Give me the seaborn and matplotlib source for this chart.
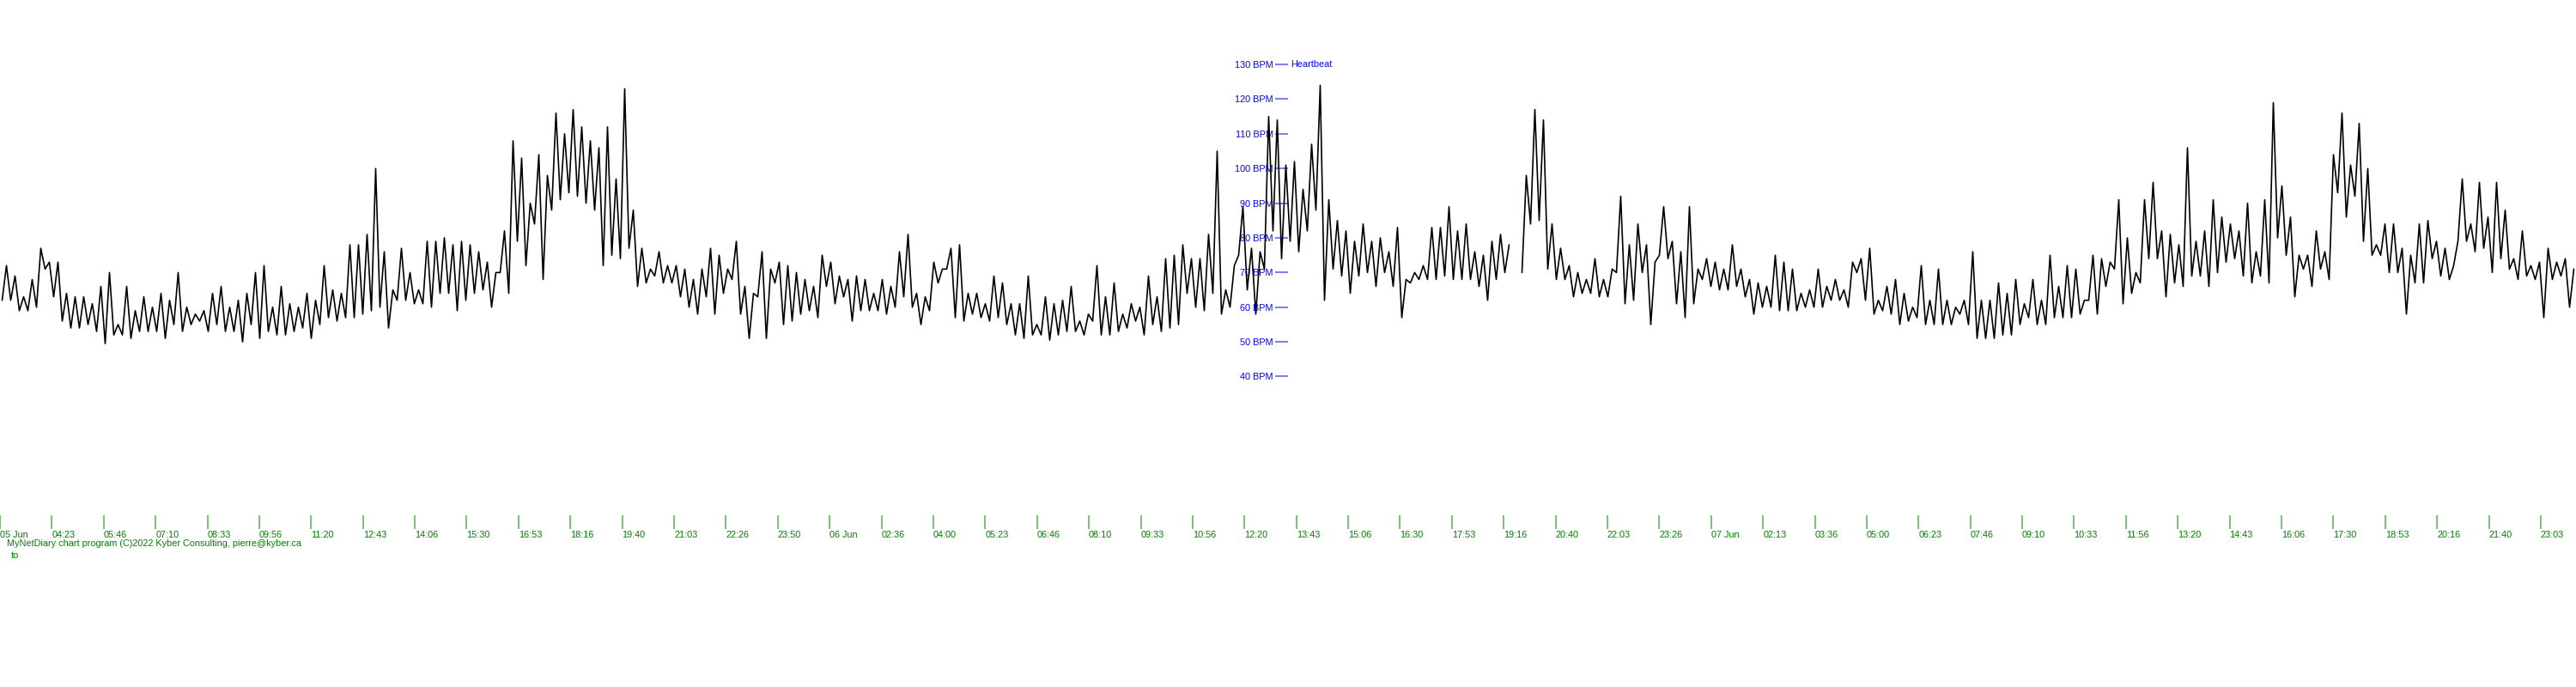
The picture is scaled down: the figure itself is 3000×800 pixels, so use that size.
import matplotlib
matplotlib.use("Agg")
import matplotlib.pyplot as plt
import matplotlib.dates as mdates
import pandas as pd
import seaborn as sns

nan = float("nan")

# heart rate: one (low, high) pair per 13.8 min slot,
# from 05 Jun 03:00 to 08 Jun 00:00. NaN marks a hole in the recording.
bpm_low_a = [62, 62, 59, 59, 60, 71, 63, 56, 54, 54, 55, 53, 49.5, 52, 52, 51, 53, 53, 53, 51,
			 55, 53, 55, 56, 53, 55, 53, 53, 50, 55, 51, 53, 52, 52, 53, 54, 51, 55, 57, 56,
			 57, 57, 58, 59, 60, 54, 62, 62, 61, 61]
bpm_high_a = [72, 69, 63, 68, 77, 73, 73, 64, 63, 63, 61, 66, 70, 55, 66, 59, 63, 60, 64, 62,
			  70, 60, 58, 59, 64, 66, 60, 62, 64, 70, 72, 60, 66, 61, 60, 64, 62, 72, 65, 64,
			  78, 78, 81, 100, 76, 65, 77, 70, 65, 79]
bpm_low_b = [60, 64, 64, 59, 62, 64, 65, 60, 70, 64, 79, 72, 84, 68, 88, 91, 93, 92, 90, 88,
			 72, 75, 74, 77, 66, 67, 69, 67, 67, 63, 60, 58, 63, 58, 64, 68, 58, 51, 63, 51,
			 67, 55, 56, 58, 59, 57, 66, 61, 63, 56]
bpm_high_b = [79, 80, 78, 79, 78, 76, 73, 70, 82, 108, 103, 90, 104, 98, 116, 110, 117, 112, 108, 106,
			  112, 97, 123, 88, 77, 71, 76, 72, 72, 71, 68, 71, 77, 75, 71, 79, 66, 64, 76, 71,
			  73, 72, 70, 68, 66, 75, 73, 69, 68, 69]
bpm_low_c = [59, 59, 59, 58, 60, 63, 60, 55, 59, 67, 71, 57, 56, 58, 57, 56, 57, 55, 52, 51,
			 52, 52, 50.5, 52, 53, 53, 52, 56, 52, 52, 53, 54, 56, 52, 55, 53, 54, 55, 64, 60,
			 59, 64, 58, 60, 75, 65, 58, 71, 82, 74]
bpm_high_c = [68, 64, 68, 66, 76, 81, 64, 63, 73, 71, 77, 78, 64, 64, 61, 69, 67, 61, 61, 69,
			  55, 63, 61, 62, 66, 56, 58, 72, 63, 67, 58, 61, 60, 69, 63, 74, 75, 78, 74, 74,
			  81, 105, 65, 72, 89, 77, 76, 115, 114, 101]
bpm_low_d = [79, 76, 82, 88, 62, 71, 69, 64, 69, 70, 66, 70, 66, 57, 67, 68, 68, 68, 69, 68,
			 68, 68, 66, 62, 68, 70, nan, 70, 84, 85, 71, 68, 68, 63, 64, 64, 63, 63, 70, 61,
			 62, 70, 55, 75, 74, 61, 57, 61, 68, 66]
bpm_high_d = [102, 94, 107, 124, 91, 85, 82, 79, 84, 79, 80, 76, 83, 68, 70, 72, 83, 83, 89, 82,
			  84, 76, 75, 79, 81, 78, nan, 98, 117, 114, 84, 77, 72, 70, 68, 74, 68, 71, 92, 78,
			  84, 78, 73, 89, 79, 76, 89, 71, 74, 73]
bpm_low_e = [65, 65, 66, 63, 58, 60, 60, 59, 59, 59, 60, 60, 60, 62, 62, 60, 70, 62, 58, 59,
			 58, 55, 56, 57, 55, 55, 55, 55, 58, 55, 51, 51, 51, 52, 52, 55, 57, 55, 55, 57,
			 57, 57, 58, 62, 58, 66, 71, 61, 64, 67]
bpm_high_e = [71, 78, 71, 68, 67, 66, 75, 73, 71, 64, 65, 71, 66, 68, 65, 73, 74, 77, 62, 66,
			  68, 64, 60, 72, 62, 71, 62, 60, 62, 76, 62, 62, 67, 64, 68, 61, 68, 62, 75, 66,
			  72, 71, 62, 75, 74, 73, 91, 80, 70, 91]
bpm_low_f = [74, 74, 63, 67, 66, 69, 69, 66, 70, 73, 74, 69, 67, 69, 67, 80, 75, 63, 71, 66,
			 71, 68, 93, 86, 92, 79, 75, 75, 70, 70, 58, 67, 67, 74, 69, 68, 79, 79, 76, 77,
			 70, 74, 71, 68, 69, 68, 57, 68, 69, 60]
bpm_high_f = [96, 82, 81, 78, 106, 79, 82, 91, 86, 84, 82, 90, 76, 91, 119, 95, 86, 75, 75, 82,
			  76, 104, 116, 101, 113, 100, 78, 84, 84, 77, 75, 84, 85, 79, 77, 72, 97, 84, 96, 86,
			  96, 88, 74, 82, 72, 73, 77, 73, 74, 71]

y_ticks = [40, 50, 60, 70, 80, 90, 100, 110, 120, 130]
start = pd.Timestamp("2022-06-05 03:00")
end = pd.Timestamp("2022-06-08 00:00")
tick_step = pd.Timedelta(minutes=83, seconds=20)
n_xticks = 50

BLUE = "#0000ff"
GREEN = "#008000"

bpm_low = bpm_low_a + bpm_low_b + bpm_low_c + bpm_low_d + bpm_low_e + bpm_low_f
bpm_high = bpm_high_a + bpm_high_b + bpm_high_c + bpm_high_d + bpm_high_e + bpm_high_f

slot = (end - start) / len(bpm_low)
rows = []
for i, (lo, hi) in enumerate(zip(bpm_low, bpm_high)):
	rows.append((start + slot * (i + 0.25), lo))
	rows.append((start + slot * (i + 0.75), hi))
df = pd.DataFrame(rows, columns=["time", "bpm"])
df["segment"] = df["bpm"].isna().cumsum()
df = df.dropna()

sns.set_style("white")
plt.rcParams["font.family"] = ["Liberation Sans", "DejaVu Sans"]

fig = plt.figure(figsize=(30, 8), dpi=100)
ax = fig.add_axes([0, 0.25, 1, 0.75])

sns.lineplot(
	data=df,
	x="time",
	y="bpm",
	units="segment",
	estimator=None,
	color="black",
	linewidth=1.2,
	legend=False,
	ax=ax,
)

ax.set_xlim(mdates.date2num(start.to_pydatetime()), mdates.date2num(end.to_pydatetime()))
ax.set_ylim(0, 148.6)
ax.set_xlabel("")
ax.set_ylabel("")
ax.grid(False)

for side in ["top", "right", "bottom", "left"]:
	ax.spines[side].set_visible(False)
ax.spines["left"].set_position(("axes", 0.5))

# y axis sits in the middle of the chart
ax.set_yticks(y_ticks)
ax.set_yticklabels([f"{v} BPM" for v in y_ticks])
ax.tick_params(axis="y", left=True, length=10.8, width=1.5, color="#8080ff", labelcolor=BLUE, labelsize=7.8, pad=1.5)
ax.annotate("Heartbeat", xy=(0.5, 130), xycoords=("axes fraction", "data"), xytext=(3, 0),
			textcoords="offset pixels", ha="left", va="center", color=BLUE, fontsize=7.8)

# time ticks every 1h23m20s, date shown on the first tick of each day
ticks = [start + tick_step * k for k in range(n_xticks)]
labels = []
prev_day = None
for t in ticks:
	labels.append(t.strftime("%d %b") if t.day != prev_day else t.strftime("%H:%M"))
	prev_day = t.day
ax.set_xticks(mdates.date2num([t.to_pydatetime() for t in ticks]))
ax.set_xticklabels(labels, ha="left")
ax.tick_params(axis="x", bottom=True, length=11.5, width=1.5, color="#80c080", labelcolor=GREEN, labelsize=7.8, pad=1.5)

fig.text(8 / 3000, 1 - 633 / 800, "MyNetDiary chart program (C)2022 Kyber Consulting, pierre@kyber.ca",
		 ha="left", va="center", color=GREEN, fontsize=7.8)
fig.text(13 / 3000, 1 - 647 / 800, "to", ha="left", va="center", color=GREEN, fontsize=7.8)

fig.savefig("out.png", dpi=100, facecolor="white")
plt.close(fig)
